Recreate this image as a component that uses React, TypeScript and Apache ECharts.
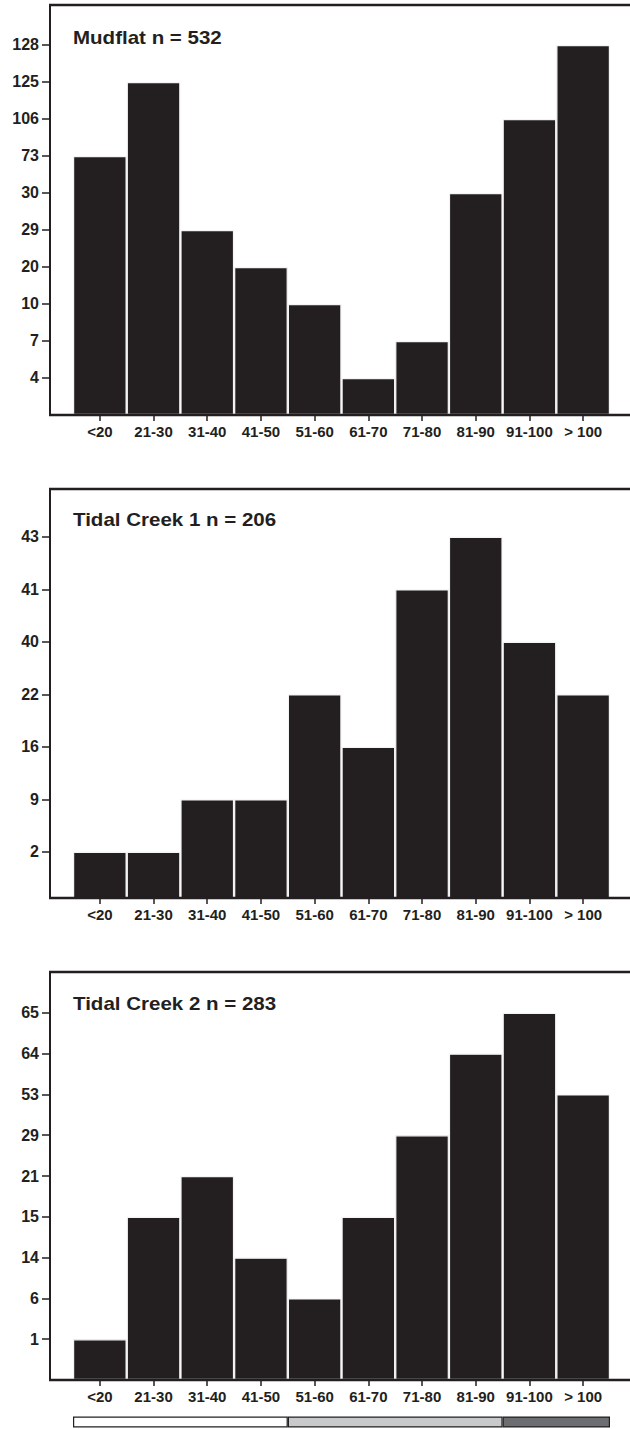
import React, { useEffect, useRef } from "react";
import * as echarts from "echarts";

const categories = ["<20", "21-30", "31-40", "41-50", "51-60", "61-70", "71-80", "81-90", "91-100", "> 100"];

const mudflatTicks = [4, 7, 10, 20, 29, 30, 73, 106, 125, 128];
const mudflatValues = [73, 125, 29, 20, 10, 4, 7, 30, 106, 128];

const creek1Ticks = [2, 9, 16, 22, 40, 41, 43];
const creek1Values = [2, 2, 9, 9, 22, 16, 41, 43, 40, 22];

const creek2Ticks = [1, 6, 14, 15, 21, 29, 53, 64, 65];
const creek2Values = [1, 15, 21, 14, 6, 15, 29, 64, 65, 53];

const panelTitles = ["Mudflat n = 532", "Tidal Creek 1 n = 206", "Tidal Creek 2 n = 283"];

const legendSegments = [4, 4, 2];
const legendColors = ["#ffffff", "#c8c9cb", "#6d6e71"];

const INK = "#231f20";
const FONT = "'Liberation Sans', Arial, Helvetica, sans-serif";

export default function App() {
  const ref = useRef<HTMLDivElement>(null);

  useEffect(() => {
    document.body.style.margin = "0";
    if (!ref.current) return;
    const chart = echarts.init(ref.current, null, { renderer: "svg" });

    const panels = [
      { ticks: mudflatTicks, values: mudflatValues, top: 5, height: 410, min: 0, max: 11.08, titleY: 29 },
      { ticks: creek1Ticks, values: creek1Values, top: 489, height: 409, min: 0.12, max: 7.91, titleY: 511 },
      { ticks: creek2Ticks, values: creek2Values, top: 972, height: 408, min: 0, max: 10.0, titleY: 995 },
    ];

    const grids: any[] = [];
    const xAxes: any[] = [];
    const yAxes: any[] = [];
    const series: any[] = [];
    const graphics: any[] = [];

    panels.forEach((p, i) => {
      grids.push({ left: 73, right: 20, top: p.top, height: p.height });
      xAxes.push({
        type: "category",
        gridIndex: i,
        data: categories,
        boundaryGap: true,
        axisLine: { show: false },
        axisTick: { show: true, alignWithLabel: true, length: 6, lineStyle: { color: INK, width: 1.5 } },
        axisLabel: { color: INK, fontFamily: FONT, fontWeight: "bold", fontSize: 15, margin: 9, interval: 0 },
        splitLine: { show: false },
      });
      const idx = p.ticks.map((_, k) => k + 1);
      yAxes.push({
        type: "value",
        gridIndex: i,
        min: p.min,
        max: p.max,
        offset: 23,
        axisLine: { show: true, lineStyle: { color: INK, width: 2 } },
        axisTick: { show: true, length: 8, customValues: idx, lineStyle: { color: INK, width: 1.5 } },
        axisLabel: {
          customValues: idx,
          color: INK,
          fontFamily: FONT,
          fontWeight: "bold",
          fontSize: 16,
          margin: 11,
          formatter: (v: number) => String(p.ticks[Math.round(v) - 1] ?? ""),
        },
        splitLine: { show: false },
      });
      series.push({
        type: "bar",
        xAxisIndex: i,
        yAxisIndex: i,
        barCategoryGap: "0%",
        data: p.values.map((v) => p.ticks.indexOf(v) + 1),
        itemStyle: { color: INK, borderColor: "#f4f4f4", borderWidth: 1.2 },
      });
      const bottom = p.top + p.height;
      graphics.push({
        type: "line",
        z: 100,
        shape: { x1: 49, y1: p.top, x2: 632, y2: p.top },
        style: { stroke: INK, lineWidth: 2.5 },
      });
      graphics.push({
        type: "line",
        z: 100,
        shape: { x1: 49, y1: bottom, x2: 632, y2: bottom },
        style: { stroke: INK, lineWidth: 2.5 },
      });
      graphics.push({
        type: "text",
        z: 100,
        x: 73,
        y: p.titleY,
        scaleX: 1.14,
        style: {
          text: panelTitles[i],
          font: `bold 18px ${FONT}`,
          fill: INK,
        },
      });
    });

    // legend strip
    grids.push({ left: 73, right: 20, top: 1416, height: 12 });
    const total = legendSegments.reduce((a, b) => a + b, 0);
    xAxes.push({ type: "value", gridIndex: 3, min: 0, max: total, show: false });
    yAxes.push({ type: "category", gridIndex: 3, data: ["band"], show: false });
    legendSegments.forEach((w, k) => {
      series.push({
        type: "bar",
        xAxisIndex: 3,
        yAxisIndex: 3,
        stack: "legend",
        barWidth: 11,
        data: [w],
        itemStyle: { color: legendColors[k], borderColor: INK, borderWidth: 1.2 },
      });
    });

    chart.setOption({
      animation: false,
      backgroundColor: "#ffffff",
      grid: grids,
      xAxis: xAxes,
      yAxis: yAxes,
      series,
      graphic: graphics,
    });

    return () => chart.dispose();
  }, []);

  return <div ref={ref} style={{ width: 630, height: 1429 }} />;
}
